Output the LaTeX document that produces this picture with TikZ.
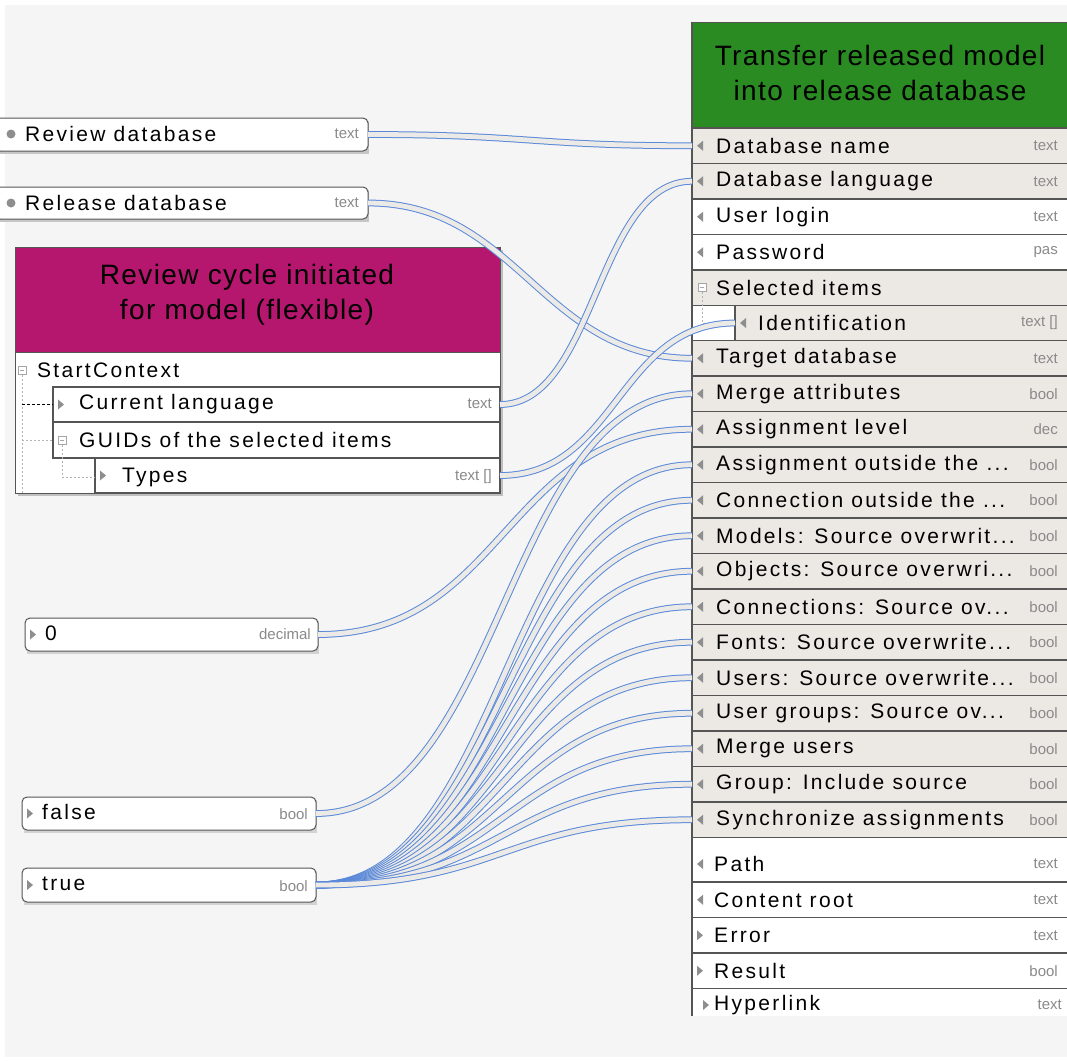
\documentclass[tikz,border=0pt]{standalone}
\usepackage{fontspec}
\setmainfont{Liberation Sans}
\newfontfamily\rowfam[LetterSpace=11]{Liberation Sans}
\newfontfamily\titlefam[LetterSpace=5]{Liberation Sans}
\usetikzlibrary{calc}
\definecolor{bgc}{HTML}{F5F5F5}
\definecolor{rowshade}{HTML}{ECE9E4}
\definecolor{hdrmag}{HTML}{B5176E}
\definecolor{hdrgreen}{HTML}{2A8B22}
\definecolor{wire}{HTML}{5B89D9}
\definecolor{wirein}{HTML}{ECEAE6}
\definecolor{bordc}{HTML}{555555}
\definecolor{typegray}{HTML}{8A8A8A}
\definecolor{portgray}{HTML}{8E8E8E}
\newcommand\threedots{...}
\tikzset{
  rowlabel/.style={anchor=west,inner sep=0pt,font=\rowfam\fontsize{21}{24}\selectfont},
  typelabel/.style={anchor=east,inner sep=0pt,text=typegray,font=\fontsize{15}{17}\selectfont},
  titletext/.style={align=center,inner sep=0pt,font=\titlefam\fontsize{28}{35}\selectfont},
  rowbox/.style={draw=bordc,line width=1.2pt,anchor=north west,minimum width=400pt,inner sep=0pt,outer sep=0pt},
  smallbox/.style={draw=bordc,line width=1pt,rounded corners=5pt,fill=white,anchor=north west,inner sep=0pt,outer sep=0pt},
  wireline/.style={draw=wire,line width=1pt,double=wirein,double distance=4.8pt},
  tree/.style={draw=gray!60,line width=0.8pt,dash pattern=on 2pt off 2pt},
}
\newcommand\inport[1]{\fill[portgray] ($(#1.west)+(5,0)$) -- ++(6,-5) -- ++(0,10) -- cycle;}
\newcommand\outport[1]{\fill[portgray] ($(#1.west)+(11,0)$) -- ++(-6,-5) -- ++(0,10) -- cycle;}
\newcommand\minusbox[1]{\draw[gray!70,line width=0.7pt,fill=white] ($(#1)+(-4,-4)$) rectangle ($(#1)+(4,4)$); \draw[gray!70,line width=0.7pt] ($(#1)+(-2,0)$) -- ($(#1)+(2,0)$);}
\begin{document}
\begin{tikzpicture}[x=1pt,y=-1pt]
\clip (0,0) rectangle (1067,1061);
\fill[white] (0,0) rectangle (1067,1061);
\fill[bgc] (5,5) rectangle (1067,1057);

% ---------- left value nodes ----------
\fill[gray!45] (0,121) rectangle (369,154);
\node[smallbox,minimum width=373pt,minimum height=33pt] (revdb) at (-5,118) {};
\fill[portgray] (11,134) circle (4.5pt);
\node[rowlabel] (revdb-l) at (25,134) {Review database};
\node[typelabel] (revdb-t) at (359,134) {text};

\fill[gray!45] (0,190) rectangle (369,222);
\node[smallbox,minimum width=373pt,minimum height=32pt] (reldb) at (-5,187) {};
\fill[portgray] (11,203) circle (4.5pt);
\node[rowlabel] (reldb-l) at (25,203) {Release database};
\node[typelabel] (reldb-t) at (359,203) {text};

\fill[gray!35] (27,621) rectangle (319,654);
\node[smallbox,minimum width=293pt,minimum height=33pt] (zero) at (25,618) {};
\outport{zero}
\node[rowlabel] (zero-l) at (45,633) {0};
\node[typelabel] (zero-t) at (311,634) {decimal};

\fill[gray!35] (24,800) rectangle (317,833);
\node[smallbox,minimum width=294pt,minimum height=33pt] (false) at (22,797) {};
\outport{false}
\node[rowlabel] (false-l) at (42,812) {false};
\node[typelabel] (false-t) at (308,814) {bool};

\fill[gray!35] (24,871) rectangle (317,905);
\node[smallbox,minimum width=294pt,minimum height=34pt] (true) at (22,868) {};
\outport{true}
\node[rowlabel] (true-l) at (42,884) {true};
\node[typelabel] (true-t) at (308,886) {bool};

% ---------- magenta event box ----------
\fill[gray!50] (18,250) rectangle (503,496);
\node[draw=bordc,line width=1pt,fill=white,anchor=north west,minimum width=485pt,minimum height=246pt,inner sep=0pt] (evt) at (15,247) {};
\node[draw=bordc,line width=1pt,fill=hdrmag,anchor=north west,minimum width=485pt,minimum height=105pt,inner sep=0pt] (evthdr) at (15,247) {};
\node[titletext] (evttitle) at (247,295) {Review cycle initiated\\for model (flexible)};
\node[anchor=north west,minimum width=485pt,minimum height=35pt,inner sep=0pt] (sctx) at (15,352) {};
\node[rowlabel] (sctx-l) at (37,370) {StartContext};
\node[rowbox,minimum width=447pt,minimum height=35pt] (curlang) at (53,387) {};
\outport{curlang}
\node[rowlabel] (curlang-l) at (79,404) {Current language};
\node[typelabel] (curlang-t) at (492,404) {text};
\node[rowbox,minimum width=447pt,minimum height=36pt] (guids) at (53,422) {};
\node[rowlabel] (guids-l) at (79,440) {GUIDs of the selected items};
\node[rowbox,minimum width=405pt,minimum height=35pt] (types) at (95,458) {};
\outport{types}
\node[rowlabel] (types-l) at (122,477) {Types};
\node[typelabel] (types-t) at (492,477) {text []};
\draw[bordc,line width=1pt] (15,247) rectangle (500,493);
% tree lines
\draw[tree] (22,375) -- (22,493);
\draw[black,line width=0.8pt,dash pattern=on 3pt off 2pt] (22,404) -- (53,404);
\draw[tree] (22,440) -- (53,440);
\draw[tree] (62,445) -- (62,477) -- (95,477);
\coordinate (m1) at (22,370); \minusbox{m1}
\coordinate (m2) at (62,440); \minusbox{m2}

% ---------- green function box ----------
\node[draw=bordc,line width=1.2pt,fill=white,anchor=north west,minimum width=400pt,minimum height=1000pt,inner sep=0pt] (fn) at (692,22) {};
\node[draw=bordc,line width=1.2pt,fill=hdrgreen,anchor=north west,minimum width=400pt,minimum height=106pt,inner sep=0pt] (fnhdr) at (692,22) {};
\node[titletext] (fntitle) at (880,73) {Transfer released model\\into release database};

\node[rowbox,fill=rowshade,minimum height=35.5pt] (dbname) at (692,128) {};
\node[rowbox,fill=rowshade,minimum height=35.5pt] (dblang) at (692,163.5) {};
\node[rowbox,fill=white,minimum height=35.5pt] (ulogin) at (692,199) {};
\node[rowbox,fill=white,minimum height=35.5pt] (pwd) at (692,234.5) {};
\node[rowbox,fill=rowshade,minimum height=35.5pt] (selitems) at (692,270) {};
\node[rowbox,fill=rowshade,minimum height=35pt] (ident) at (735,305.5) {};
\node[rowbox,fill=rowshade,minimum height=35.5pt] (tgtdb) at (692,340.5) {};
\node[rowbox,fill=rowshade,minimum height=35.5pt] (mergeattr) at (692,376) {};
\node[rowbox,fill=rowshade,minimum height=35.5pt] (asslevel) at (692,411.5) {};
\node[rowbox,fill=rowshade,minimum height=35.5pt] (assout) at (692,447) {};
\node[rowbox,fill=rowshade,minimum height=35.5pt] (conout) at (692,482.5) {};
\node[rowbox,fill=rowshade,minimum height=35.5pt] (models) at (692,518) {};
\node[rowbox,fill=rowshade,minimum height=35.5pt] (objects) at (692,553.5) {};
\node[rowbox,fill=rowshade,minimum height=35.5pt] (conns) at (692,589) {};
\node[rowbox,fill=rowshade,minimum height=35.5pt] (fonts) at (692,624.5) {};
\node[rowbox,fill=rowshade,minimum height=35.5pt] (users) at (692,660) {};
\node[rowbox,fill=rowshade,minimum height=35.5pt] (ugroups) at (692,695.5) {};
\node[rowbox,fill=rowshade,minimum height=35.5pt] (mergeusers) at (692,731) {};
\node[rowbox,fill=rowshade,minimum height=35.5pt] (grpinc) at (692,766.5) {};
\node[rowbox,fill=rowshade,minimum height=35.5pt] (sync) at (692,802) {};
\node[rowbox,fill=white,minimum height=44.5pt] (path) at (692,837.5) {};
\node[rowbox,fill=white,minimum height=35.5pt] (croot) at (692,882) {};
\node[rowbox,fill=white,minimum height=35.5pt] (error) at (692,917.5) {};
\node[rowbox,fill=white,minimum height=35.5pt] (result) at (692,953) {};
\node[rowbox,fill=white,minimum height=40pt] (hyper) at (692,988.5) {};
\fill[bgc] (680,1016) rectangle (1067,1057);
\fill[white] (680,1057) rectangle (1067,1061);
\draw[bordc,line width=1.2pt] (692,22) -- (692,1016);

\foreach \n/\t/\ty in {dbname/Database name/text,dblang/Database language/text,ulogin/User login/text,pwd/Password/pas,tgtdb/Target database/text,mergeattr/Merge attributes/bool,asslevel/Assignment level/dec,assout/Assignment outside the \threedots/bool,conout/Connection outside the \threedots/bool,models/Models: Source overwrit\threedots/bool,objects/Objects: Source overwri\threedots/bool,conns/Connections: Source ov\threedots/bool,fonts/Fonts: Source overwrite\threedots/bool,users/Users: Source overwrite\threedots/bool,ugroups/User groups: Source ov\threedots/bool,mergeusers/Merge users/bool,grpinc/Group: Include source/bool,sync/Synchronize assignments/bool}{
  \inport{\n}
  \node[rowlabel] (\n-l) at ($(\n.west)+(24,0)$) {\t};
  \node[typelabel] (\n-t) at (1058,0 |- \n.west) {\ty};
}
\node[rowlabel] (selitems-l) at (716,288) {Selected items};
\coordinate (m3) at (702,287); \minusbox{m3}
\draw[tree] (702,292) -- (702,323) -- (735,323);
\inport{ident}
\node[rowlabel] (ident-l) at (758,323) {Identification};
\node[typelabel] (ident-t) at (1058,323) {text []};
\fill[portgray] (697,864) -- ++(6,-5) -- ++(0,10) -- cycle;
\node[rowlabel] (path-l) at (714,864) {Path};
\node[typelabel] (path-t) at (1058,864) {text};
\inport{croot}
\node[rowlabel] (croot-l) at (714,900) {Content root};
\node[typelabel] (croot-t) at (1058,900) {text};
\foreach \n/\t/\ty in {error/Error/text,result/Result/bool}{
  \fill[portgray] ($(\n.west)+(11,0)$) -- ++(-6,-5) -- ++(0,10) -- cycle;
  \node[rowlabel] (\n-l) at ($(\n.west)+(22,0)$) {\t};
  \node[typelabel] (\n-t) at (1058,0 |- \n.west) {\ty};
}
\fill[portgray] (709,1005) -- ++(-6,-5) -- ++(0,10) -- cycle;
\node[rowlabel] (hyper-l) at (714,1005) {Hyperlink};
\node[typelabel] (hyper-t) at (1062,1005) {text};

% ---------- connectors ----------
\newcommand\wire[3]{\draw[wireline] (#1) .. controls +(#3,0) and +(-#3,0) .. (#2);}
\wire{revdb.east}{dbname.west}{160}
\wire{reldb.east}{tgtdb.west}{150}
\wire{curlang.east}{dblang.west}{96}
\wire{types.east}{ident.west}{117}
\wire{zero.east}{asslevel.west}{187}
\wire{false.east}{mergeattr.west}{187}
\foreach \t in {assout,conout,models,objects,conns,fonts,users,ugroups,mergeusers,grpinc,sync}{
  \wire{true.east}{\t.west}{187}
}
\end{tikzpicture}
\end{document}
